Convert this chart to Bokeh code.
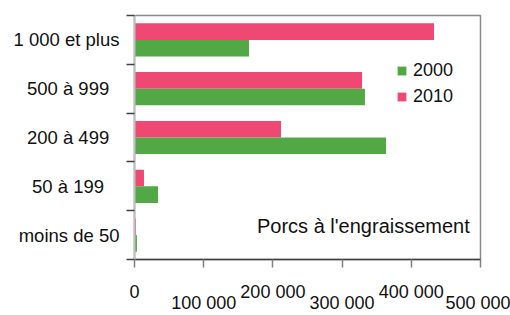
from bokeh.plotting import figure
from bokeh.models import (ColumnDataSource, Range1d, FixedTicker, LinearAxis,
                          Legend, LegendItem, Label)
from bokeh.transform import dodge
from bokeh.embed import file_html
from bokeh.resources import INLINE

categories = ["1 000 et plus", "500 à 999", "200 à 499", "50 à 199", "moins de 50"]
cat_labels = ["1 000 et plus", "500 à 999\u00a0\u00a0", "200 à 499\u00a0\u00a0",
              "50 à 199\u00a0\u00a0\u00a0", "moins de 50"]
v2000 = [165500, 333000, 363500, 34000, 3500]
v2010 = [432800, 328800, 211700, 13700, 2000]
x_ticks = [0, 100000, 200000, 300000, 400000, 500000]
x_tick_labels = ["0", "100 000", "200 000", "300 000", "400 000", "500 000"]
title_text = "Porcs à l'engraissement"

PINK = "#EF4872"
GREEN = "#53A846"
FONT = "Liberation Sans"

n = len(categories)
ypos = [n - i - 0.5 for i in range(n)]
src = ColumnDataSource(dict(y=ypos, v2000=v2000, v2010=v2010, cat=categories))

p = figure(width=510, height=315, output_backend="svg", toolbar_location=None,
           x_range=Range1d(0, 500000), y_range=Range1d(0, n),
           min_border_left=134, min_border_right=30, min_border_top=15,
           min_border_bottom=50, x_axis_type=None, y_axis_type=None)
p.background_fill_color = "white"
p.border_fill_color = "white"
p.outline_line_color = "#8a8a8a"
p.outline_line_width = 1.5

r2010 = p.hbar(y=dodge("y", 0.17, range=p.y_range), right="v2010", left=0,
               height=0.34, source=src, fill_color=PINK, line_color=None)
r2000 = p.hbar(y=dodge("y", -0.17, range=p.y_range), right="v2000", left=0,
               height=0.34, source=src, fill_color=GREEN, line_color=None)

# y axis: labels at category centres, tick marks at category boundaries
yaxis = LinearAxis(ticker=FixedTicker(ticks=ypos, minor_ticks=list(range(n + 1))))
yaxis.major_label_overrides = {y: lab for y, lab in zip(ypos, cat_labels)}
yaxis.major_tick_out = 0
yaxis.major_tick_in = 0
yaxis.minor_tick_out = 8
yaxis.minor_tick_in = 0
yaxis.minor_tick_line_color = "#404040"
yaxis.minor_tick_line_width = 1.5
yaxis.axis_line_color = "#c0c0c0"
yaxis.axis_line_width = 2
yaxis.major_label_standoff = 7
yaxis.major_label_text_font = FONT
yaxis.major_label_text_font_size = "18.5px"
yaxis.major_label_text_color = "#111111"
p.add_layout(yaxis, "left")

# x axis: staggered labels on two rows
even_t = x_ticks[0::2]
odd_t = x_ticks[1::2]
xaxis1 = LinearAxis(ticker=FixedTicker(ticks=even_t, minor_ticks=odd_t))
xaxis1.major_label_overrides = {t: l for t, l in zip(x_ticks, x_tick_labels)}
xaxis1.axis_line_color = "#404040"
xaxis1.axis_line_width = 1.5
xaxis1.major_tick_out = 8
xaxis1.major_tick_in = 0
xaxis1.minor_tick_out = 8
xaxis1.minor_tick_in = 0
xaxis1.major_tick_line_color = "#808080"
xaxis1.minor_tick_line_color = "#808080"
xaxis1.major_tick_line_width = 1.5
xaxis1.minor_tick_line_width = 1.5
xaxis1.major_label_standoff = 14
xaxis1.major_label_text_font = FONT
xaxis1.major_label_text_font_size = "18px"
xaxis1.major_label_text_color = "#111111"
p.add_layout(xaxis1, "below")

xaxis2 = LinearAxis(ticker=FixedTicker(ticks=odd_t, minor_ticks=[]))
xaxis2.major_label_overrides = {t: l for t, l in zip(x_ticks, x_tick_labels)}
xaxis2.axis_line_color = None
xaxis2.major_tick_line_color = None
xaxis2.major_tick_out = 0
xaxis2.major_tick_in = 0
xaxis2.minor_tick_line_color = None
xaxis2.major_label_standoff = -12
xaxis2.major_label_text_font = FONT
xaxis2.major_label_text_font_size = "18px"
xaxis2.major_label_text_color = "#111111"
p.add_layout(xaxis2, "below")

p.xgrid.ticker = FixedTicker(ticks=x_ticks)
p.xgrid.grid_line_color = "#8a8a8a"
p.xgrid.grid_line_width = 2
p.ygrid.grid_line_color = None

p.add_layout(Label(x=177000, y=0.68, text=title_text, text_font=FONT,
                   text_font_size="20px", text_baseline="middle",
                   text_align="left", text_color="#111111"))

legend = Legend(items=[LegendItem(label="2000", renderers=[r2000]),
                       LegendItem(label="2010", renderers=[r2010])],
                location=(262, 152), padding=0, margin=0, spacing=5,
                glyph_width=11, glyph_height=11, label_standoff=6,
                label_height=20, label_text_font=FONT,
                label_text_font_size="18px", label_text_color="#111111",
                background_fill_alpha=0, border_line_color=None)
p.add_layout(legend)

open("out.html", "w").write(file_html(p, INLINE))
